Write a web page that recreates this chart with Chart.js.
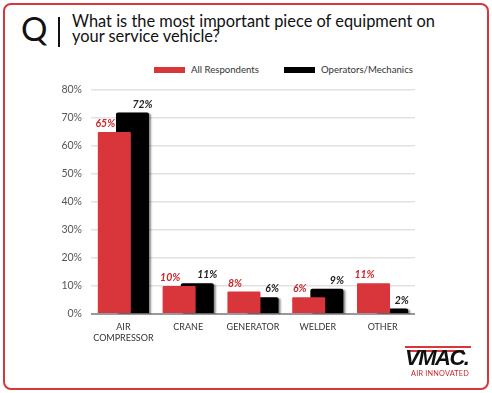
<!DOCTYPE html>
<html><head><meta charset="utf-8">
<script src="https://cdn.jsdelivr.net/npm/chart.js@4"></script>
<style>
html,body{margin:0;padding:0;background:#fff;}
#wrap{position:relative;width:492px;height:393px;overflow:hidden;font-family:Lato,"Open Sans",sans-serif;}
#frame{position:absolute;left:3px;top:3px;width:482px;height:383px;border:2px solid #d8363a;border-radius:8px;}
#q{position:absolute;left:21px;top:8px;font-size:33px;color:#111;line-height:40px;}
#vbar{position:absolute;left:58px;top:17px;width:2px;height:30px;background:#111;}
#title{position:absolute;left:72px;top:13px;font-size:16.4px;line-height:15px;color:#111;white-space:nowrap;}
.lg{position:absolute;top:63px;font-size:9.6px;color:#333;white-space:nowrap;line-height:14px;}
.lg span{display:inline-block;width:31px;height:6px;vertical-align:middle;margin-right:6px;position:relative;top:-1px;}
#c{position:absolute;left:0;top:0;}
#logo{position:absolute;left:403px;top:344px;width:72px;height:36px;}
#vm{position:absolute;left:2px;top:1px;font-size:22px;font-weight:900;font-style:italic;color:#111;letter-spacing:-1.5px;font-family:"Liberation Sans",Arial,sans-serif;}
#ai{position:absolute;left:8px;top:25px;font-size:7.3px;color:#c8282c;white-space:nowrap;letter-spacing:0.2px;}
.st{position:absolute;height:2px;background:#d8363a;}
</style></head>
<body><div id="wrap">
<div id="frame"></div>
<div id="q">Q</div><div id="vbar"></div>
<div id="title">What is the most important piece of equipment on<br>your service vehicle?</div>
<div class="lg" style="left:154px"><span style="background:#d8363a"></span>All Respondents</div>
<div class="lg" style="left:284px"><span style="background:#000"></span>Operators/Mechanics</div>
<canvas id="c" width="492" height="393"></canvas>
<div id="logo"><div class="st" style="left:2px;top:2px;width:66px"></div><div class="st" style="left:6px;top:6px;width:55px"></div><div id="vm">VMAC.</div><div id="ai">AIR INNOVATED</div></div>
</div>
<script>
const categories = [["AIR","COMPRESSOR"],"CRANE","GENERATOR","WELDER","OTHER"];
const allRespondents = [65,10,8,6,11];
const operatorsMechanics = [72,11,6,9,2];
const seriesNames = ["All Respondents","Operators/Mechanics"];

const labelPlugin = {
  id:'vals',
  beforeDatasetDraw(chart,args){
    if(args.index===1){const c=chart.ctx;c.save();c.shadowColor='rgba(0,0,0,0.45)';c.shadowOffsetX=2;c.shadowOffsetY=1;c.shadowBlur=2;}
  },
  afterDatasetDraw(chart,args){
    if(args.index===1){chart.ctx.restore();}
  },
  afterDatasetsDraw(chart){
    const ctx=chart.ctx;
    ctx.save();
    ctx.font='italic bold 10.5px Lato';
    ctx.textAlign='center';ctx.textBaseline='bottom';
    chart.data.datasets.forEach((ds,di)=>{
      const meta=chart.getDatasetMeta(di);
      meta.data.forEach((bar,i)=>{
        ctx.fillStyle= di===0?'#c8282c':'#222';
        const dx = di===0?-9:10;
        ctx.fillText(ds.data[i]+'%', bar.x+dx, bar.y-3);
      });
    });
    ctx.restore();
  }
};

new Chart(document.getElementById('c'),{
  type:'bar',
  data:{labels:categories,datasets:[
    {label:seriesNames[0],data:allRespondents,backgroundColor:'#d8363a',categoryPercentage:0.56,barPercentage:1.82,borderRadius:1},
    {label:seriesNames[1],data:operatorsMechanics,backgroundColor:'#000',categoryPercentage:0.56,barPercentage:1.82,borderRadius:2}
  ]},
  options:{
    responsive:false,animation:false,devicePixelRatio:1,
    layout:{padding:{left:40,top:90,right:77,bottom:39}},
    plugins:{legend:{display:false},tooltip:{enabled:false}},
    scales:{
      y:{min:0,max:80,
        ticks:{stepSize:10,callback:v=>v+'%',color:'#555',font:{family:'Lato',size:10.5},padding:9},
        grid:{color:c=>c.tick.value===0?'#999':'#e2e2e2',lineWidth:c=>c.tick.value===0?2:1.5,drawTicks:false},
        border:{display:false},
        afterFit(s){s.width=51;}
      },
      x:{
        ticks:{color:'#333',font:{family:'Lato',size:9,lineHeight:1.2},padding:8,maxRotation:0,autoSkip:false},
        grid:{display:false,drawTicks:false},
        border:{display:false},
        afterFit(s){s.height=40;}
      }
    }
  },
  plugins:[labelPlugin]
});
</script>
</body></html>
